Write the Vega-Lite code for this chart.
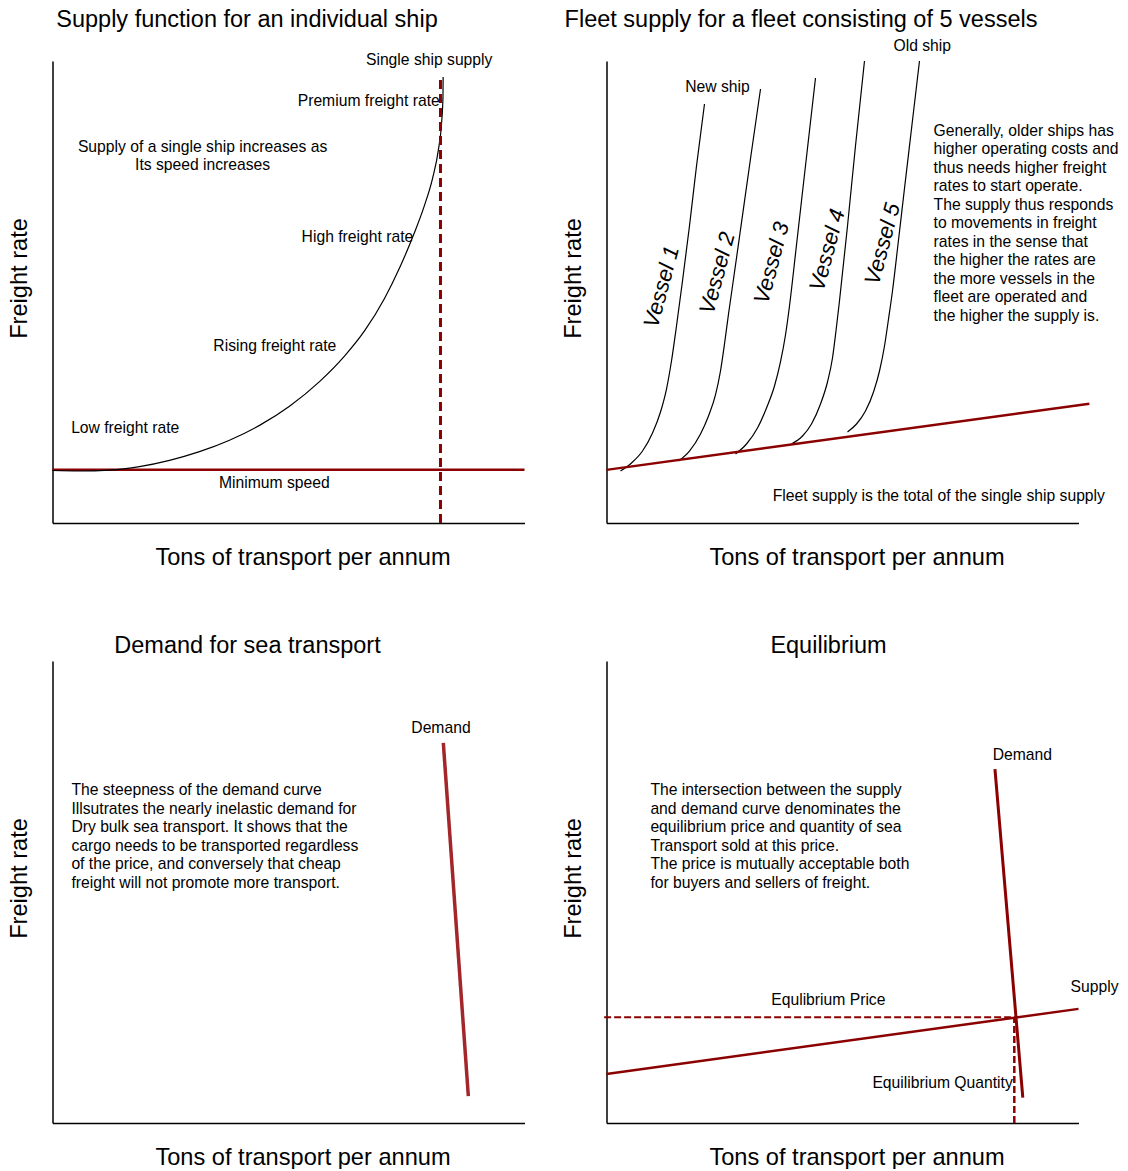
{
  "$schema": "https://vega.github.io/schema/vega-lite/v6.json",
  "padding": {"left": 7.5, "top": 7, "right": 0, "bottom": 0},
  "background": "white",
  "bounds": "flush",
  "columns": 2,
  "spacing": {"row": 138, "column": 82},
  "config": {
    "view": {"stroke": null},
    "font": "Liberation Sans",
    "axis": {"domainColor": "#000000", "domainWidth": 1.5, "ticks": false, "labels": false, "grid": false, "titleFont": "Liberation Sans", "titleFontSize": 23.6, "titleFontWeight": "normal", "titleColor": "#000000", "titleBaseline": "middle", "titleAlign": "center"},
    "axisX": {"titleX": 250, "titleY": 34},
    "axisY": {"titleX": -33, "titleY": 217, "titleAngle": -90},
    "title": {"font": "Liberation Sans", "fontSize": 23.5, "fontWeight": "normal", "color": "#000000", "anchor": "middle", "frame": "group", "baseline": "alphabetic"},
    "text": {"font": "Liberation Sans", "fontSize": 15.7, "color": "#000000"}
  },
  "datasets": {
    "p1_min": [{"x": 0, "y": 11.5}, {"x": 100, "y": 11.5}],
    "p1_curve": [
      {"x": 0, "y": 11.36}, {"x": 5.72, "y": 11.26}, {"x": 12.08, "y": 11.45}, {"x": 18.43, "y": 12.2},
      {"x": 24.79, "y": 13.56}, {"x": 31.14, "y": 15.44}, {"x": 37.5, "y": 17.91}, {"x": 43.86, "y": 21.13},
      {"x": 50.21, "y": 25.28}, {"x": 56.57, "y": 30.61}, {"x": 61.86, "y": 36.13}, {"x": 66.1, "y": 41.58},
      {"x": 70.34, "y": 48.61}, {"x": 73.52, "y": 55.19}, {"x": 76.48, "y": 62.32}, {"x": 78.81, "y": 68.74},
      {"x": 80.51, "y": 74.55}, {"x": 81.78, "y": 80.91}, {"x": 82.42, "y": 86.43}, {"x": 82.73, "y": 92.27},
      {"x": 82.76, "y": 96.54}
    ],
    "p1_dash": [{"x": 82.2, "y": 0}, {"x": 82.2, "y": 96.8}],
    "p1_text": [
      {"x": 79.8, "y": 99.1, "t": "Single ship supply"},
      {"x": 67.0, "y": 90.2, "t": "Premium freight rate"},
      {"x": 31.8, "y": 80.3, "t": "Supply of a single ship increases as\nIts speed increases"},
      {"x": 64.6, "y": 60.8, "t": "High freight rate"},
      {"x": 47.1, "y": 37.2, "t": "Rising freight rate"},
      {"x": 15.4, "y": 19.5, "t": "Low freight rate"},
      {"x": 47.0, "y": 7.6, "t": "Minimum speed"}
    ],
    "p2_vessels": [
      {"v": 1, "x": 2.97, "y": 11.26}, {"v": 1, "x": 5.30, "y": 12.99}, {"v": 1, "x": 7.63, "y": 15.58}, {"v": 1, "x": 9.75, "y": 19.48},
      {"v": 1, "x": 11.44, "y": 24.03}, {"v": 1, "x": 12.71, "y": 29.0}, {"v": 1, "x": 13.77, "y": 35.06}, {"v": 1, "x": 14.83, "y": 42.64},
      {"v": 1, "x": 16.10, "y": 52.38}, {"v": 1, "x": 17.58, "y": 64.29}, {"v": 1, "x": 19.07, "y": 77.27}, {"v": 1, "x": 20.76, "y": 90.69},
      {"v": 2, "x": 15.25, "y": 13.42}, {"v": 2, "x": 17.58, "y": 15.58}, {"v": 2, "x": 19.92, "y": 19.26}, {"v": 2, "x": 21.61, "y": 23.16},
      {"v": 2, "x": 23.09, "y": 27.71}, {"v": 2, "x": 24.15, "y": 32.90}, {"v": 2, "x": 25.0, "y": 38.74}, {"v": 2, "x": 25.85, "y": 45.24},
      {"v": 2, "x": 26.76, "y": 51.73}, {"v": 2, "x": 28.26, "y": 62.55}, {"v": 2, "x": 30.59, "y": 79.44}, {"v": 2, "x": 32.63, "y": 93.94},
      {"v": 3, "x": 27.33, "y": 14.94}, {"v": 3, "x": 29.66, "y": 17.10}, {"v": 3, "x": 31.99, "y": 20.56}, {"v": 3, "x": 33.90, "y": 24.89},
      {"v": 3, "x": 35.59, "y": 29.65}, {"v": 3, "x": 36.86, "y": 34.85}, {"v": 3, "x": 37.92, "y": 40.69}, {"v": 3, "x": 38.77, "y": 46.97},
      {"v": 3, "x": 40.11, "y": 58.87}, {"v": 3, "x": 41.84, "y": 74.46}, {"v": 3, "x": 44.28, "y": 96.32},
      {"v": 4, "x": 39.19, "y": 17.10}, {"v": 4, "x": 41.53, "y": 18.83}, {"v": 4, "x": 43.43, "y": 21.43}, {"v": 4, "x": 45.34, "y": 25.76},
      {"v": 4, "x": 46.82, "y": 30.52}, {"v": 4, "x": 47.88, "y": 35.71}, {"v": 4, "x": 48.62, "y": 41.56}, {"v": 4, "x": 49.36, "y": 48.05},
      {"v": 4, "x": 51.06, "y": 64.29}, {"v": 4, "x": 52.75, "y": 81.60}, {"v": 4, "x": 54.66, "y": 100.0},
      {"v": 5, "x": 51.06, "y": 19.70}, {"v": 5, "x": 52.97, "y": 21.43}, {"v": 5, "x": 54.87, "y": 24.24}, {"v": 5, "x": 56.57, "y": 28.35},
      {"v": 5, "x": 57.84, "y": 32.90}, {"v": 5, "x": 58.90, "y": 38.31}, {"v": 5, "x": 59.75, "y": 44.16}, {"v": 5, "x": 60.59, "y": 50.22},
      {"v": 5, "x": 61.72, "y": 59.96}, {"v": 5, "x": 63.07, "y": 71.86}, {"v": 5, "x": 64.64, "y": 85.50}, {"v": 5, "x": 66.31, "y": 100.0}
    ],
    "p2_supply": [{"x": 0, "y": 11.5}, {"x": 102.3, "y": 25.8}],
    "p2_labels": [
      {"x": 11.65, "y": 51.1, "t": "Vessel 1"},
      {"x": 23.5, "y": 54.1, "t": "Vessel 2"},
      {"x": 35.0, "y": 56.3, "t": "Vessel 3"},
      {"x": 46.8, "y": 59.1, "t": "Vessel 4"},
      {"x": 58.5, "y": 60.4, "t": "Vessel 5"}
    ],
    "p2_text": [
      {"x": 23.5, "y": 93.3, "t": "New ship"},
      {"x": 66.9, "y": 102.1, "t": "Old ship"},
      {"x": 70.4, "y": 4.7, "t": "Fleet supply is the total of the single ship supply"}
    ],
    "p2_para": [
      {"x": 69.3, "y": 83.8, "t": "Generally, older ships has\nhigher operating costs and\nthus needs higher freight\nrates to start operate.\nThe supply thus responds\nto movements in freight\nrates in the sense that\nthe higher the rates are\nthe more vessels in the\nfleet are operated and\nthe higher the supply is."}
    ],
    "p3_demand": [{"x": 82.8, "y": 82.3}, {"x": 88.1, "y": 5.8}],
    "p3_text": [{"x": 82.3, "y": 84.4, "t": "Demand"}],
    "p3_para": [
      {"x": 4.0, "y": 71.0, "t": "The steepness of the demand curve\nIllsutrates the nearly inelastic demand for\nDry bulk sea transport. It shows that the\ncargo needs to be transported regardless\nof the price, and conversely that cheap\nfreight will not promote more transport."}
    ],
    "p4_supply": [{"x": 0, "y": 10.6}, {"x": 100, "y": 24.7}],
    "p4_demand": [{"x": 82.3, "y": 76.6}, {"x": 88.2, "y": 5.5}],
    "p4_hdash": [{"x": -0.5, "y": 22.9}, {"x": 86.7, "y": 22.9}],
    "p4_vdash": [{"x": 86.4, "y": 0}, {"x": 86.4, "y": 22.9}],
    "p4_text": [
      {"x": 88.1, "y": 78.6, "t": "Demand"},
      {"x": 103.4, "y": 28.3, "t": "Supply"},
      {"x": 47.0, "y": 25.5, "t": "Equlibrium Price"},
      {"x": 71.2, "y": 7.6, "t": "Equilibrium Quantity"}
    ],
    "p4_para": [
      {"x": 9.3, "y": 71.0, "t": "The intersection between the supply\nand demand curve denominates the\nequilibrium price and quantity of sea\nTransport sold at this price.\nThe price is mutually acceptable both\nfor buyers and sellers of freight."}
    ]
  },
  "concat": [
    {
      "width": 472, "height": 462,
      "title": {"text": "Supply function for an individual ship", "dx": -41.5, "offset": 21},
      "encoding": {
        "x": {"field": "x", "type": "quantitative", "scale": {"domain": [0, 100], "nice": false, "zero": false}, "axis": {"title": "Tons of transport per annum"}},
        "y": {"field": "y", "type": "quantitative", "scale": {"domain": [0, 100], "nice": false, "zero": false}, "axis": {"title": "Freight rate"}}
      },
      "layer": [
        {"data": {"name": "p1_min"}, "mark": {"type": "line", "color": "#8b0000", "strokeWidth": 2.5}, "encoding": {"order": {"value": null}}},
        {"data": {"name": "p1_curve"}, "mark": {"type": "line", "color": "#000000", "strokeWidth": 1.2, "interpolate": "monotone"}, "encoding": {"order": {"value": null}}},
        {"data": {"name": "p1_dash"}, "mark": {"type": "line", "color": "#8b0000", "strokeWidth": 3, "strokeDash": [9, 5]}, "encoding": {"order": {"value": null}}},
        {"data": {"name": "p1_text"}, "mark": {"type": "text", "align": "center", "baseline": "alphabetic", "lineBreak": "\n", "lineHeight": 18}, "encoding": {"text": {"field": "t", "type": "nominal"}}}
      ]
    },
    {
      "width": 472, "height": 462,
      "title": {"text": "Fleet supply for a fleet consisting of 5 vessels", "dx": -41.5, "offset": 7},
      "encoding": {
        "x": {"field": "x", "type": "quantitative", "scale": {"domain": [0, 100], "nice": false, "zero": false}, "axis": {"title": "Tons of transport per annum"}},
        "y": {"field": "y", "type": "quantitative", "scale": {"domain": [0, 100], "nice": false, "zero": false}, "axis": {"title": "Freight rate"}}
      },
      "layer": [
        {"data": {"name": "p2_vessels"}, "mark": {"type": "line", "color": "#000000", "strokeWidth": 1.2, "interpolate": "monotone"}, "encoding": {"detail": {"field": "v", "type": "nominal"}, "order": {"value": null}}},
        {"data": {"name": "p2_supply"}, "mark": {"type": "line", "color": "#8b0000", "strokeWidth": 2.5}, "encoding": {"order": {"value": null}}},
        {"data": {"name": "p2_labels"}, "mark": {"type": "text", "align": "center", "baseline": "middle", "angle": 285, "fontSize": 22, "fontStyle": "italic"}, "encoding": {"text": {"field": "t", "type": "nominal"}}},
        {"data": {"name": "p2_text"}, "mark": {"type": "text", "align": "center", "baseline": "alphabetic"}, "encoding": {"text": {"field": "t", "type": "nominal"}}},
        {"data": {"name": "p2_para"}, "mark": {"type": "text", "align": "left", "baseline": "alphabetic", "lineBreak": "\n", "lineHeight": 18.5}, "encoding": {"text": {"field": "t", "type": "nominal"}}}
      ]
    },
    {
      "width": 472, "height": 462,
      "title": {"text": "Demand for sea transport", "dx": -41, "offset": 3.5},
      "encoding": {
        "x": {"field": "x", "type": "quantitative", "scale": {"domain": [0, 100], "nice": false, "zero": false}, "axis": {"title": "Tons of transport per annum"}},
        "y": {"field": "y", "type": "quantitative", "scale": {"domain": [0, 100], "nice": false, "zero": false}, "axis": {"title": "Freight rate"}}
      },
      "layer": [
        {"data": {"name": "p3_demand"}, "mark": {"type": "line", "color": "#a3262a", "strokeWidth": 3.5}, "encoding": {"order": {"value": null}}},
        {"data": {"name": "p3_text"}, "mark": {"type": "text", "align": "center", "baseline": "alphabetic"}, "encoding": {"text": {"field": "t", "type": "nominal"}}},
        {"data": {"name": "p3_para"}, "mark": {"type": "text", "align": "left", "baseline": "alphabetic", "lineBreak": "\n", "lineHeight": 18.6}, "encoding": {"text": {"field": "t", "type": "nominal"}}}
      ]
    },
    {
      "width": 472, "height": 462,
      "title": {"text": "Equilibrium", "dx": -14, "offset": 3.5},
      "encoding": {
        "x": {"field": "x", "type": "quantitative", "scale": {"domain": [0, 100], "nice": false, "zero": false}, "axis": {"title": "Tons of transport per annum"}},
        "y": {"field": "y", "type": "quantitative", "scale": {"domain": [0, 100], "nice": false, "zero": false}, "axis": {"title": "Freight rate"}}
      },
      "layer": [
        {"data": {"name": "p4_supply"}, "mark": {"type": "line", "color": "#8b0000", "strokeWidth": 2.5}, "encoding": {"order": {"value": null}}},
        {"data": {"name": "p4_hdash"}, "mark": {"type": "line", "color": "#8b0000", "strokeWidth": 2, "strokeDash": [7, 3]}, "encoding": {"order": {"value": null}}},
        {"data": {"name": "p4_vdash"}, "mark": {"type": "line", "color": "#8b0000", "strokeWidth": 2.5, "strokeDash": [7, 3]}, "encoding": {"order": {"value": null}}},
        {"data": {"name": "p4_demand"}, "mark": {"type": "line", "color": "#8b0000", "strokeWidth": 3}, "encoding": {"order": {"value": null}}},
        {"data": {"name": "p4_text"}, "mark": {"type": "text", "align": "center", "baseline": "alphabetic"}, "encoding": {"text": {"field": "t", "type": "nominal"}}},
        {"data": {"name": "p4_para"}, "mark": {"type": "text", "align": "left", "baseline": "alphabetic", "lineBreak": "\n", "lineHeight": 18.6}, "encoding": {"text": {"field": "t", "type": "nominal"}}}
      ]
    }
  ]
}
